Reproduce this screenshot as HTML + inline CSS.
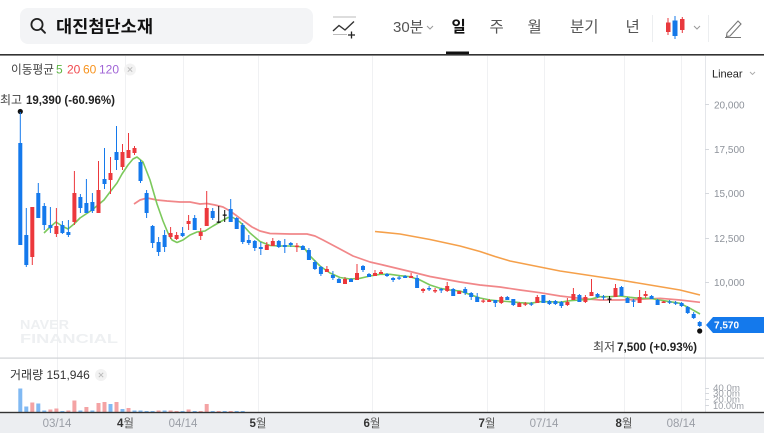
<!DOCTYPE html>
<html><head><meta charset="utf-8">
<style>
html,body{margin:0;padding:0;background:#fff;}
body{width:764px;height:433px;overflow:hidden;}
svg{display:block;font-family:"Liberation Sans","Noto Sans CJK KR",sans-serif;}
</style></head>
<body>
<svg width="764" height="433" viewBox="0 0 764 433" xmlns="http://www.w3.org/2000/svg">
<rect x="0" y="0" width="764" height="433" fill="#fff"/>
<rect x="20" y="8" width="293" height="36" rx="8" fill="#f3f4f6"/>
<circle cx="37" cy="24.5" r="5.6" fill="none" stroke="#222" stroke-width="1.8"/>
<line x1="41" y1="28.7" x2="45" y2="32.8" stroke="#222" stroke-width="1.9" stroke-linecap="round"/>
<text x="56" y="32.5" font-size="17" font-weight="bold" fill="#111" textLength="97" lengthAdjust="spacingAndGlyphs">대진첨단소재</text>
<line x1="333" y1="17" x2="356" y2="17" stroke="#bbb" stroke-width="1"/>
<polyline points="333,31 339,25.5 345,30 354,21.5" fill="none" stroke="#333" stroke-width="1.4"/>
<line x1="333" y1="34.5" x2="347" y2="34.5" stroke="#bbb" stroke-width="1"/>
<path d="M348 35H355M351.5 31.5V38.5" stroke="#222" stroke-width="1.3"/>
<text x="393" y="32" font-size="15" fill="#555">30분</text>
<polyline points="427,26 430,29 433,26" fill="none" stroke="#999" stroke-width="1"/>
<text x="451.5" y="32" font-size="15.5" font-weight="bold" fill="#111">일</text>
<rect x="446" y="51.5" width="23" height="3" fill="#111"/>
<text x="489.5" y="32" font-size="15.5" fill="#555">주</text>
<text x="527.5" y="32" font-size="15.5" fill="#555">월</text>
<text x="570" y="32" font-size="15.5" fill="#555">분기</text>
<text x="625.5" y="32" font-size="15.5" fill="#555">년</text>
<path d="M652.5 15V42M708.5 15V42" stroke="#eceef0" stroke-width="1"/>
<path d="M667.5 18h1v17h-1zM666 22.5h4.5v9.5h-4.5zM681.8 17h1v16h-1zM680 19h4.5v11h-4.5z" fill="#e8383d"/>
<path d="M674.5 16h1v23h-1zM672.5 20.5h5v15.5h-5z" fill="#1478e8"/>
<polyline points="694,26 697,29 700,26" fill="none" stroke="#999" stroke-width="1"/>
<path d="M727,33 L738,21 L741,24 L730,36 L726.5,36.5 Z" fill="none" stroke="#777" stroke-width="1.1"/>
<line x1="725" y1="37.5" x2="741" y2="37.5" stroke="#777" stroke-width="1"/>
<rect x="0" y="54" width="764" height="1.6" fill="#333"/>

<path d="M57.5 56V412M125.5 56V412M183.5 56V412M258.5 56V412M372.5 56V412M487.5 56V412M544.5 56V412M624.5 56V412M681.5 56V412" stroke="#f0f1f3" stroke-width="1"/>
<line x1="705.5" y1="56" x2="705.5" y2="412" stroke="#e4e6ea" stroke-width="1"/>
<path d="M705 104.5h4M705 149.5h4M705 193.5h4M705 238.5h4M705 282.5h4M705 388.5h4M705 393.5h4M705 399.5h4M705 405.5h4" stroke="#d5d8dd" stroke-width="1"/>

<text x="20" y="329" font-size="13" font-weight="bold" fill="#eef0f2" textLength="49" lengthAdjust="spacingAndGlyphs">NAVER</text>
<text x="20" y="343" font-size="13" font-weight="bold" fill="#eef0f2" textLength="98" lengthAdjust="spacingAndGlyphs">FINANCIAL</text>

<text x="11" y="73.5" font-size="12" fill="#444" textLength="43" lengthAdjust="spacingAndGlyphs">이동평균</text>
<text x="56" y="73.5" font-size="12" fill="#5db544">5</text>
<text x="67" y="73.5" font-size="12" fill="#f0494e">20</text>
<text x="83" y="73.5" font-size="12" fill="#f7931e">60</text>
<text x="99" y="73.5" font-size="12" fill="#a064d6">120</text>
<circle cx="130" cy="69.5" r="6" fill="#f2f2f2"/>
<path d="M127.8,67.3 L132.2,71.7 M132.2,67.3 L127.8,71.7" stroke="#bbb" stroke-width="1"/>

<text x="712" y="77.5" font-size="11" fill="#222">Linear</text>
<polyline points="750,72 752.5,74.5 755,72" fill="none" stroke="#aaa" stroke-width="0.9"/>

<g font-size="10" fill="#8d929a">
<text x="714" y="108.5">20,000</text>
<text x="714" y="153">17,500</text>
<text x="714" y="197">15,000</text>
<text x="714" y="242">12,500</text>
<text x="714" y="286">10,000</text>
</g>

<text x="0" y="104" font-size="12" fill="#444">최고</text>
<text x="26" y="104" font-size="12" fill="#222" font-weight="bold" textLength="89" lengthAdjust="spacingAndGlyphs">19,390 (-60.96%)</text>
<text x="593" y="351" font-size="12" fill="#444">최저</text>
<text x="617" y="351" font-size="12" fill="#222" font-weight="bold" textLength="80" lengthAdjust="spacingAndGlyphs">7,500 (+0.93%)</text>
<circle cx="20.3" cy="111.5" r="2.6" fill="#111"/>
<circle cx="699.7" cy="331" r="2.6" fill="#111"/>

<polyline fill="none" stroke="#f5a04a" stroke-width="1.6" stroke-linejoin="round" points="375,231.5 400,234 430,239.5 460,246 480,251.5 495,256.5 510,261 530,265 560,271 590,275.5 620,280 650,285 680,290 700,295"/>
<polyline fill="none" stroke="#f07a7c" stroke-width="1.7" stroke-opacity="0.9" stroke-linejoin="round" points="134,204 140,200 147,198 157,200 167,201 180,202 190,202 200,204 207,203.5 215,205 223,207 230,211 237,216 245,222 252,227 260,231 270,233.5 290,234 307,234 315,236 323,240 340,249 353,256 370,262 383,265 410,271.5 430,276.5 460,282 480,285 500,287 520,290 540,292.7 560,296 580,298.3 600,300 620,300 640,299.3 660,298.3 680,300 700,302.3"/>
<polyline fill="none" stroke="#7cc95c" stroke-width="1.6" stroke-linejoin="round" points="44,233 50,227 56,222 62,226 68,229 74,224 80,218 86,214 92,210 98,205 104,200 110,192 117,183 122,174 128,165 133,159 137,157 143,162 150,180 157,204 163,221 168,233 172,240 177,242.5 183,240 190,235 197,232 205,231 213,226 220,222 228,217.5 233,217.5 240,222 250,233 260,241.5 270,245.5 280,246 290,246 300,246.7 305,249 310,256 320,266 330,273 340,277.5 350,279 360,278.3 370,276 380,274.3 390,274.3 400,275.7 410,276.7 420,280 430,285 440,288.3 450,290 460,291 470,294.5 480,298 490,300 500,301 510,301.7 520,302.7 530,303.3 540,301.7 550,301.7 560,302.3 570,300.7 580,300 590,299.3 600,296.7 610,296.7 620,296 630,297.3 640,298.3 650,298.3 660,300 670,301.7 680,303.3 690,308.3 700,314"/>

<path fill="#1479ec" d="M19.8 112h1v133h-1zM18.3 143h4v102h-4zM25.8 208h1v59h-1zM24.3 235h4v30h-4zM37.8 183h1v35h-1zM36.3 193h4v25h-4zM43.8 203h1v27h-1zM42.3 206h4v19h-4zM49.9 207h1v26h-1zM48.4 225h4v3h-4zM61.9 221h1v13h-1zM60.4 225h4v8h-4zM67.9 220h1v17h-1zM66.4 232h4v3h-4zM79.9 194h1v19h-1zM78.4 197h4v11h-4zM85.9 179h1v34h-1zM84.4 203h4v10h-4zM91.9 193h1v20h-1zM90.4 202h4v9h-4zM104 148h1v41h-1zM102.5 179h4v5h-4zM116 126h1v44h-1zM114.5 152h4v8h-4zM140 160h1v23h-1zM138.5 162h4v19h-4zM146.1 190h1v28h-1zM144.6 193h4v20h-4zM152.1 225h1v23h-1zM150.6 226h4v17h-4zM158.1 237h1v19h-1zM156.6 242h4v10h-4zM164.1 230h1v22h-1zM162.6 235h4v12h-4zM182.1 227h1v10h-1zM180.6 233h4v3h-4zM194.2 215h1v15h-1zM192.7 218h4v12h-4zM212.2 208h1v12h-1zM210.7 211h4v7h-4zM230.2 199h1v23h-1zM228.7 209h4v13h-4zM236.2 217h1v12h-1zM234.7 218h4v11h-4zM242.2 223h1v21h-1zM240.7 225h4v17h-4zM248.3 235h1v10h-1zM246.8 240h4v3h-4zM254.3 240h1v11h-1zM252.8 241h4v7h-4zM260.3 242h1v13h-1zM258.8 247h4v2h-4zM278.3 240h1v8h-1zM276.8 241h4v6h-4zM284.3 239h1v14h-1zM282.8 245h4v2h-4zM290.3 242h1v5h-1zM288.8 243h4v2h-4zM302.4 245h1v5h-1zM300.9 246h4v4h-4zM308.4 248h1v12h-1zM306.9 250h4v10h-4zM314.4 260h1v10h-1zM312.9 262h4v7h-4zM320.4 266h1v10h-1zM318.9 267h4v7h-4zM332.4 271h1v9h-1zM330.9 275h4v3h-4zM338.4 278h1v5h-1zM336.9 279h4v4h-4zM350.5 278h1v4h-1zM349 279h4v3h-4zM362.5 265h1v7h-1zM361 266h4v4h-4zM368.5 273h1v4h-1zM367 274h4v3h-4zM386.5 273h1v4h-1zM385 274h4v2h-4zM392.6 277h1v5h-1zM391.1 278h4v2h-4zM398.6 276h1v4h-1zM397.1 277.5h4v1.2h-4zM404.6 275h1v3h-1zM403.1 276h4v2h-4zM416.6 275h1v13h-1zM415.1 278h4v10h-4zM428.6 286h1v5h-1zM427.1 288h4v1.5h-4zM440.7 288h1v5h-1zM439.2 289h4v1.5h-4zM452.7 288h1v8h-1zM451.2 289h4v7h-4zM464.7 287h1v8h-1zM463.2 289h4v4h-4zM470.7 292h1v8h-1zM469.2 293h4v4h-4zM476.7 293h1v9h-1zM475.2 297h4v5h-4zM494.8 300h1v7h-1zM493.3 300h4v3h-4zM506.8 296h1v4h-1zM505.3 297h4v3h-4zM512.8 299h1v7h-1zM511.3 299h4v6h-4zM530.8 302h1v4h-1zM529.3 303.5h4v1.2h-4zM542.9 295h1v8h-1zM541.4 295h4v8h-4zM548.9 300h1v5h-1zM547.4 301h4v3h-4zM554.9 300h1v5h-1zM553.4 301h4v3h-4zM560.9 301h1v7h-1zM559.4 302h4v4h-4zM578.9 294h1v8h-1zM577.4 295h4v7h-4zM597 293h1v5h-1zM595.5 294h4v3h-4zM603 295h1v5h-1zM601.5 296.5h4v1.2h-4zM621 286h1v10h-1zM619.5 287h4v9h-4zM627 297h1v6h-1zM625.5 298h4v5h-4zM633 299h1v8h-1zM631.5 300.5h4v1.2h-4zM651.1 295h1v4h-1zM649.6 296h4v3h-4zM657.1 299h1v6h-1zM655.6 300h4v5h-4zM669.1 300h1v4h-1zM667.6 301.5h4v1.2h-4zM675.1 301h1v4h-1zM673.6 302.5h4v1.2h-4zM681.1 302h1v5h-1zM679.6 303h4v3h-4zM687.2 306h1v8h-1zM685.7 307h4v6h-4zM693.2 312h1v7h-1zM691.7 314h4v4h-4zM699.2 321h1v6h-1zM697.7 322h4v4h-4z"/>
<path fill="#ec383c" d="M31.8 207h1v58h-1zM30.3 207h4v50h-4zM55.9 208h1v29h-1zM54.4 226h4v8h-4zM73.9 171h1v54h-1zM72.4 193h4v29h-4zM98 161h1v52h-1zM96.5 190h4v23h-4zM110 157h1v37h-1zM108.5 173h4v7h-4zM122 144h1v26h-1zM120.5 152h4v15h-4zM128 133h1v25h-1zM126.5 150h4v8h-4zM134 146h1v9h-1zM132.5 148h4v5h-4zM170.1 227h1v12h-1zM168.6 233h4v4h-4zM176.1 232h1v8h-1zM174.6 235h4v4h-4zM188.1 215h1v15h-1zM186.6 221h4v3h-4zM200.2 228h1v12h-1zM198.7 232h4v4h-4zM206.2 191h1v35h-1zM204.7 208h4v18h-4zM266.3 242h1v8h-1zM264.8 245h4v5h-4zM272.3 238h1v8h-1zM270.8 241h4v5h-4zM296.4 243h1v9h-1zM294.9 245.5h4v1.5h-4zM326.4 266h1v6h-1zM324.9 269h4v3h-4zM344.5 277h1v7h-1zM343 279h4v5h-4zM356.5 264h1v16h-1zM355 273h4v7h-4zM374.5 270h1v6h-1zM373 273h4v3h-4zM380.5 270h1v4h-1zM379 272h4v2h-4zM410.6 273h1v5h-1zM409.1 276h4v2h-4zM422.6 288h1v5h-1zM421.1 289h4v2h-4zM434.6 288h1v5h-1zM433.1 290h4v1.5h-4zM446.7 282h1v10h-1zM445.2 286h4v5h-4zM458.7 291h1v3h-1zM457.2 291h4v3h-4zM482.7 299h1v4h-1zM481.2 300.5h4v1.2h-4zM488.7 299h1v3h-1zM487.2 300h4v2h-4zM500.8 296h1v8h-1zM499.3 297h4v6h-4zM518.8 302h1v5h-1zM517.3 303h4v4h-4zM524.8 302h1v4h-1zM523.3 303.5h4v1.2h-4zM536.8 295h1v8h-1zM535.3 297h4v6h-4zM566.9 298h1v8h-1zM565.4 302h4v3h-4zM572.9 288h1v12h-1zM571.4 294h4v6h-4zM584.9 295h1v8h-1zM583.4 297h4v5h-4zM591 279h1v17h-1zM589.5 292h4v4h-4zM615 284h1v13h-1zM613.5 288h4v9h-4zM639.1 290h1v13h-1zM637.6 297h4v6h-4zM645.1 291h1v7h-1zM643.6 294h4v2h-4zM663.1 301h1v2h-1zM661.6 301.5h4v1.5h-4z"/>
<path fill="#111" d="M218.2 206h1v17h-1zM216.7 221.5h4v1.2h-4zM224.2 210h1v12h-1zM222.7 214.5h4v1.2h-4zM609 296h1v7h-1zM607.5 298.5h4v1.2h-4z"/>

<path d="M706,325 L713,317 L764,317 L764,333 L713,333 Z" fill="#1479ec"/>
<text x="714" y="328.5" font-size="10" font-weight="bold" fill="#fff">7,570</text>

<rect x="0" y="357.5" width="764" height="1.2" fill="#cfd2d6"/>

<text x="10" y="379" font-size="12" fill="#333">거래량 151,946</text>
<circle cx="101" cy="375" r="6" fill="#f2f2f2"/>
<path d="M98.8,372.8 L103.2,377.2 M103.2,372.8 L98.8,377.2" stroke="#bbb" stroke-width="1"/>
<g font-size="9" fill="#9a9ea5">
<text x="713" y="391" textLength="27" lengthAdjust="spacingAndGlyphs">40.0m</text>
<text x="713" y="396.5" textLength="27" lengthAdjust="spacingAndGlyphs">30.0m</text>
<text x="713" y="402.5" textLength="27" lengthAdjust="spacingAndGlyphs">20.0m</text>
<text x="713" y="409" textLength="31" lengthAdjust="spacingAndGlyphs">10.00m</text>
</g>
<path fill="#80b9f3" d="M18.3 388.5h4v23.5h-4zM24.3 406.5h4v5.5h-4zM36.3 403.5h4v8.5h-4zM42.3 410.5h4v1.5h-4zM60.4 411h4v1h-4zM78.4 410.5h4v1.5h-4zM90.4 410.5h4v1.5h-4zM108.5 404h4v8h-4zM120.5 409h4v3h-4zM132.5 410.5h4v1.5h-4zM138.5 410.5h4v1.5h-4zM144.6 411h4v1h-4zM150.6 411h4v1h-4zM162.6 410.5h4v1.5h-4zM180.6 411h4v1h-4zM192.7 411h4v1h-4zM210.7 411h4v1h-4zM222.7 411h4v1h-4zM234.7 411h4v1h-4zM240.7 411h4v1h-4z"/>
<path fill="#f4a3a4" d="M30.3 402.5h4v9.5h-4zM48.4 409.5h4v2.5h-4zM54.4 408.5h4v3.5h-4zM66.4 410.5h4v1.5h-4zM72.4 400.5h4v11.5h-4zM84.4 407h4v5h-4zM96.5 403h4v9h-4zM102.5 402h4v10h-4zM114.5 402h4v10h-4zM126.5 408h4v4h-4zM156.6 410.5h4v1.5h-4zM168.6 410.5h4v1.5h-4zM174.6 411h4v1h-4zM186.6 409.5h4v2.5h-4zM198.7 411h4v1h-4zM204.7 404h4v8h-4zM216.7 411h4v1h-4zM228.7 411h4v1h-4z"/>

<rect x="0" y="413" width="764" height="20" fill="#eceef1"/>
<rect x="0" y="411.8" width="764" height="1.4" fill="#333"/>
<g font-size="11.5" fill="#9a9ea6" text-anchor="middle">
<text x="57" y="427">03/14</text>
<text x="183" y="427">04/14</text>
<text x="544" y="427">07/14</text>
<text x="681" y="427">08/14</text>
</g>
<g font-size="11.5" fill="#555" text-anchor="middle">
<text x="125.5" y="427"><tspan font-weight="bold" fill="#333">4</tspan>월</text>
<text x="258" y="427"><tspan font-weight="bold" fill="#333">5</tspan>월</text>
<text x="372" y="427"><tspan font-weight="bold" fill="#333">6</tspan>월</text>
<text x="487" y="427"><tspan font-weight="bold" fill="#333">7</tspan>월</text>
<text x="624" y="427"><tspan font-weight="bold" fill="#333">8</tspan>월</text>
</g>
</svg>
</body></html>
